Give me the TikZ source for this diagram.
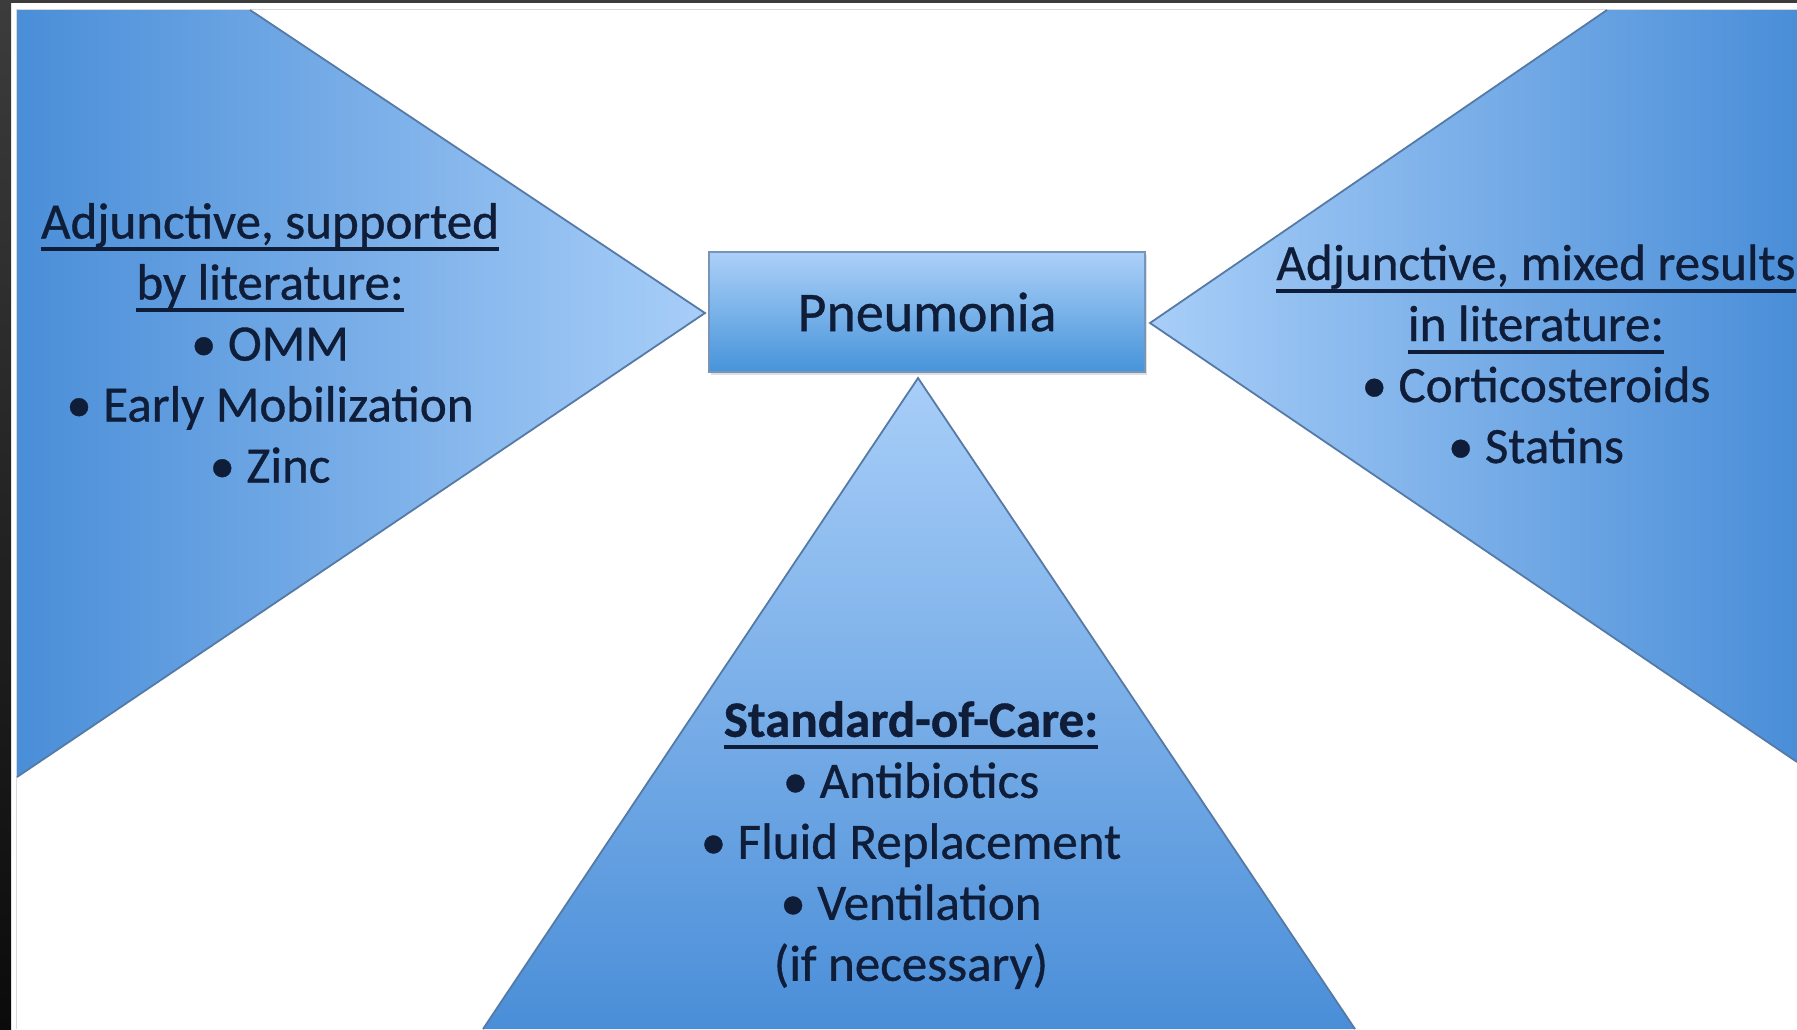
\documentclass[tikz,border=0pt]{standalone}
\usepackage{fontspec}
\setmainfont{Carlito}
\newfontfamily\thickfont{Carlito}[FakeBold=0.7]
\newcommand{\myul}[1]{{\setbox0=\hbox{#1}\rlap{\rule[-6.3pt]{\wd0}{2pt}}\box0}}
\usetikzlibrary{shadows}
\definecolor{bdark}{HTML}{4A8ED8}
\definecolor{blight}{HTML}{A8CEF8}
\definecolor{txt}{HTML}{0F1D38}
\definecolor{edgec}{HTML}{557AA6}
\definecolor{frameL}{HTML}{3C3C3C}
\definecolor{frameD}{HTML}{0B0B0B}
\begin{document}
\begin{tikzpicture}[x=0.5pt,y=-0.5pt,
  edgeline/.style={draw=edgec, line width=0.9pt},
  txtblock/.style={text=txt, align=center, inner sep=0pt,
    font=\thickfont\fontsize{25.5}{30.5}\selectfont},
  pbox/.style={draw=edgec!80, line width=0.6pt, top color=blight!95!white,
    bottom color=bdark!95!cyan, minimum width=218pt, minimum height=60pt,
    inner sep=0pt, text=txt, font=\thickfont\fontsize{28}{34}\selectfont,
    drop shadow={opacity=0.25, shadow xshift=1pt, shadow yshift=-1.5pt}}
]
\useasboundingbox (0,0) rectangle (1797,1029);
\clip (0,0) rectangle (1797,1029);
% frame
\fill[white] (0,0) rectangle (1797,1029);
\fill[frameL] (0,0) rectangle (1797,3);
\shade[top color=frameL, bottom color=frameD] (0,0) rectangle (11,1029);
\draw[black!15, line width=0.5pt] (16,1029) -- (16,9) -- (1797,9);
% left wedge
\shade[left color=bdark, right color=blight] (17,10) -- (250,10) -- (705,313) -- (17,777) -- cycle;
\draw[edgeline] (250,10) -- (705,313) -- (17,777);
% right wedge
\shade[left color=blight, right color=bdark] (1607,10) -- (1797,10) -- (1797,762) -- (1150,323) -- cycle;
\draw[edgeline] (1607,10) -- (1150,323) -- (1797,762);
% bottom wedge
\shade[top color=blight, bottom color=bdark] (918,378) -- (1355,1029) -- (483,1029) -- cycle;
\draw[edgeline] (483,1029) -- (918,378) -- (1355,1029);
% centre box
\node[pbox] (pneu) at (927,312) {\raisebox{-2pt}{Pneumonia}};
% texts
\node[txtblock] (lefttext) at (270,343) {\myul{Adjunctive, supported}\\ \myul{by literature:}\\ • OMM\\ • Early Mobilization\\ • Zinc};
\node[txtblock] (righttext) at (1536,354) {\myul{Adjunctive, mixed results}\\ \myul{in literature:}\\ • Corticosteroids\\ • Statins};
\node[txtblock] (bottomtext) at (911,845) {\textbf{\myul{Standard-of-Care:}}\\ • Antibiotics\\ • Fluid Replacement\\ • Ventilation\\ (if necessary)};
\end{tikzpicture}
\end{document}
